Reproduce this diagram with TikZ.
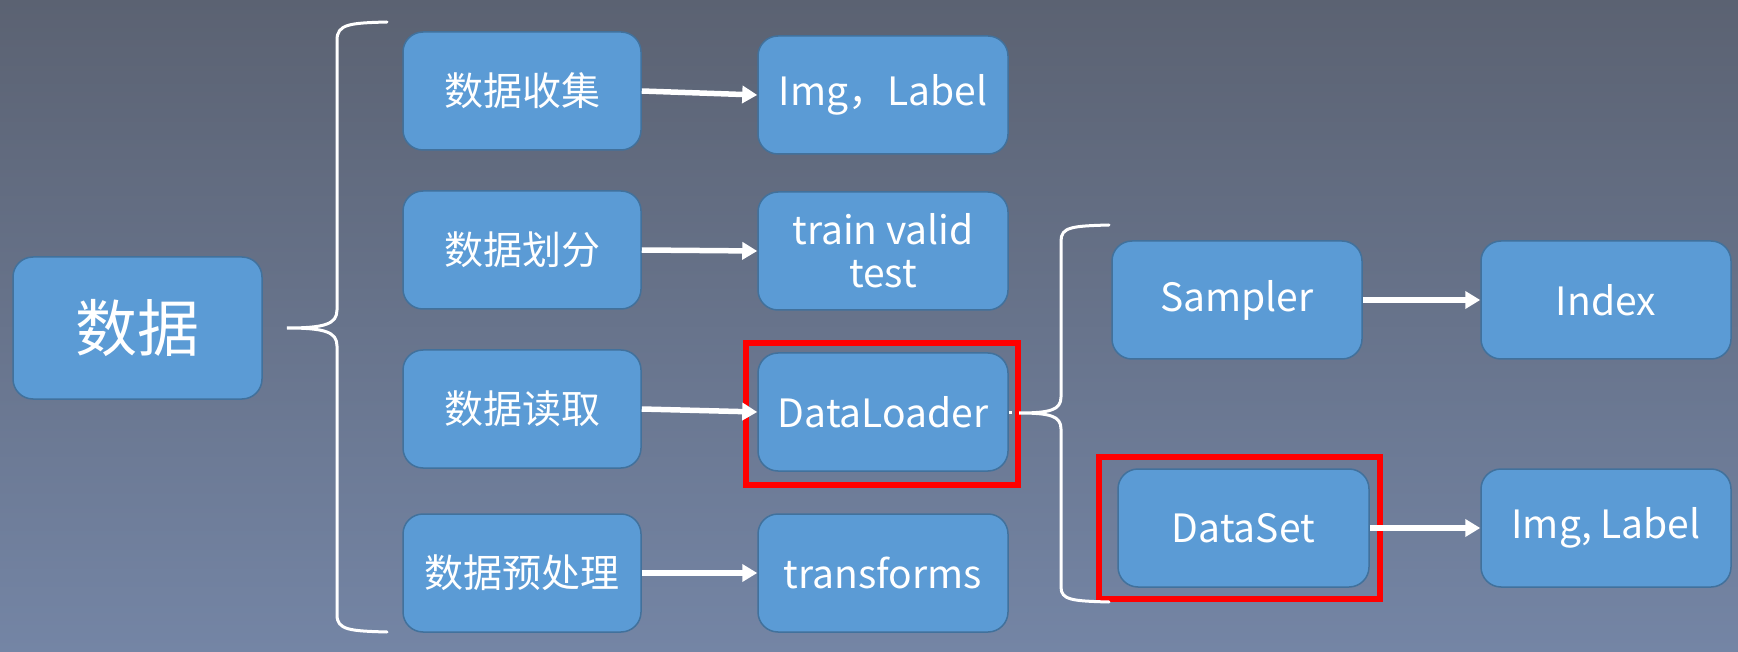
\documentclass[tikz,border=0pt]{standalone}
\usepackage{fontspec}
\setmainfont{Noto Sans CJK SC}
\usetikzlibrary{arrows.meta}
\definecolor{boxfill}{HTML}{5B9BD5}
\definecolor{boxline}{HTML}{41719C}
\definecolor{bgtop}{HTML}{5B6272}
\definecolor{bgbot}{HTML}{7485A5}
\begin{document}
\begin{tikzpicture}[x=1pt,y=-1pt,
  box/.style={draw=boxline, line width=1.5pt, fill=boxfill, rounded corners=20pt,
    text=white, minimum width=250pt, minimum height=118pt, inner sep=0pt,
    align=center, font=\fontsize{39}{43}\selectfont},
  leftbox/.style={box, minimum width=238pt},
  bigbox/.style={box, minimum width=249pt, minimum height=142pt, font=\fontsize{62}{66}\selectfont},
  redframe/.style={draw=red, line width=6pt},
  brace/.style={draw=white, line width=3pt, line cap=round},
  arr/.style={draw=white, line width=5.5pt, -{Triangle[length=15pt,width=17pt]}}]
\useasboundingbox (0,0) rectangle (1738,652);
\shade[top color=bgtop, bottom color=bgbot] (0,0) rectangle (1738,652);

% nodes
\node[bigbox] (d) at (137.5,328) {数据};
\node[leftbox] (c1) at (522,91) {数据收集};
\node[leftbox] (c2) at (522,250) {数据划分};
\node[leftbox] (c3) at (522,409) {数据读取};
\node[leftbox] (c4) at (522,573) {数据预处理};
\node[box] (r1) at (883,95) {Img，Label};
\node[box] (r2) at (883,251) {train valid\\test};
\node[box] (r3) at (883,412) {DataLoader};
\node[box] (r4) at (883,573) {transforms};
\node[box] (s) at (1237,300) {Sampler};
\node[box] (ix) at (1606,300) {Index};
\node[box, minimum width=251pt] (ds) at (1243.5,528) {DataSet};
\node[box] (il) at (1606,528) {Img, Label};

% red highlight frames
\node[redframe, minimum width=272pt, minimum height=142pt, inner sep=0pt] (f1) at (882,414) {};
\node[redframe, minimum width=281pt, minimum height=142pt, inner sep=0pt] (f2) at (1239.5,528) {};

% left brace
\coordinate (b1tip) at (287,328);
\coordinate (b1top) at (387,22);
\coordinate (b1bot) at (387,632);
\draw[brace] (b1top) .. controls (350,23) and (337,24) .. (337,40)
  -- (337,310) .. controls (337,324) and (325,328) .. (b1tip)
  .. controls (325,328) and (337,332) .. (337,346)
  -- (337,615) .. controls (337,630) and (350,631) .. (b1bot);

% right brace
\coordinate (b2tip) at (1019,413);
\coordinate (b2top) at (1109,225);
\coordinate (b2bot) at (1109,602);
\draw[white, line width=3pt] (r3.east) -- ++(3,0);
\draw[brace] (b2top) .. controls (1072,226) and (1061,227) .. (1061,241)
  -- (1061,397) .. controls (1061,410) and (1050,413) .. (b2tip)
  .. controls (1050,413) and (1061,416) .. (1061,429)
  -- (1061,587) .. controls (1061,600) and (1072,601) .. (b2bot);

% arrows
\draw[arr] (c1.east) -- (r1.west);
\draw[arr] (c2.east) -- (r2.west);
\draw[arr] (c3.east) -- (r3.west);
\draw[arr] (c4.east) -- (r4.west);
\draw[arr] (s.east) -- (ix.west);
\draw[arr] (ds.east) -- (il.west);
\end{tikzpicture}
\end{document}
